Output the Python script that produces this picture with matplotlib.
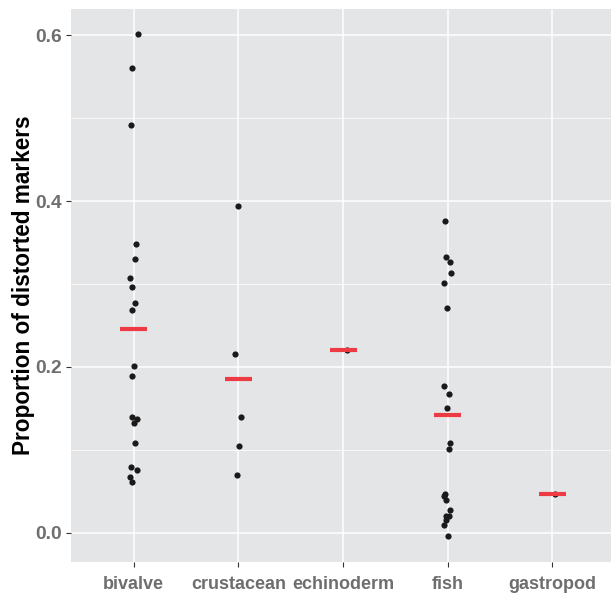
import numpy as np
import matplotlib
matplotlib.use('Agg')
import matplotlib.pyplot as plt

plt.rcParams['font.family'] = ['Liberation Sans', 'DejaVu Sans']

categories = ['bivalve', 'crustacean', 'echinoderm', 'fish', 'gastropod']

bivalve = [0.601, 0.560, 0.491, 0.348, 0.330, 0.307, 0.296, 0.277, 0.269, 0.201,
           0.189, 0.140, 0.137, 0.133, 0.109, 0.080, 0.076, 0.067, 0.061]
crustacean = [0.394, 0.216, 0.140, 0.105, 0.070]
echinoderm = [0.220]
fish = [0.376, 0.332, 0.327, 0.313, 0.301, 0.271, 0.177, 0.168, 0.151, 0.109,
        0.101, 0.047, 0.044, 0.040, 0.028, 0.021, 0.020, 0.016, 0.010, -0.004]
gastropod = [0.047]

# horizontal jitter (category units)
jit_bivalve = [0.044, -0.016, -0.023, 0.019, 0.012, -0.032, -0.021, 0.015, -0.016, 0.003,
               -0.013, -0.016, 0.029, 0.0, 0.01, -0.026, 0.029, -0.032, -0.016]
jit_crustacean = [-0.004, -0.035, 0.028, 0.006, -0.01]
jit_echinoderm = [0.034]
jit_fish = [-0.027, -0.017, 0.021, 0.031, -0.039, -0.01, -0.039, 0.011, -0.005, 0.021,
            0.014, -0.024, -0.036, -0.02, 0.021, 0.011, -0.014, -0.02, -0.036, -0.001]
jit_gastropod = [0.026]

groups = [bivalve, crustacean, echinoderm, fish, gastropod]
jitters = [jit_bivalve, jit_crustacean, jit_echinoderm, jit_fish, jit_gastropod]

fig = plt.figure(figsize=(6.11, 5.98), dpi=100)
W, H = 611, 598
left, right, top, bottom = 71, 615.3, 9.3, 561.7
ax = fig.add_axes([left / W, (H - bottom) / H, (right - left) / W, (bottom - top) / H])
ax.set_facecolor('#E4E5E7')
for s in ax.spines.values():
    s.set_visible(False)

for i, (vals, jit) in enumerate(zip(groups, jitters)):
    xs = i + 1 + np.array(jit)
    ax.scatter(xs, vals, s=20, color='#1A1A1A', zorder=3, linewidths=0)
    m = np.mean(vals)
    ax.hlines(m, i + 1 - 0.13, i + 1 + 0.13, color='#EE3A43', linewidth=3.0, zorder=4)

ax.set_xlim(0.4, 5.6)
ax.set_ylim(-0.0346, 0.631)
ax.set_xticks(range(1, 6))
ax.set_xticklabels(categories)
ax.set_yticks([0.0, 0.2, 0.4, 0.6])
ax.set_yticklabels(['0.0', '0.2', '0.4', '0.6'])
ax.set_yticks([0.1, 0.3, 0.5], minor=True)

ax.grid(True, which='major', color='white', linewidth=1.1)
ax.grid(True, which='minor', axis='y', color='white', linewidth=0.55)
ax.set_axisbelow(True)

ax.tick_params(axis='both', which='major', length=3.5, width=0.8, color='#333333',
               labelcolor='#6E6E6E', labelsize=13.8)
ax.tick_params(axis='x', pad=7, labelsize=13)
ax.tick_params(axis='y', pad=3)
ax.tick_params(which='minor', length=0)
for lab in ax.get_xticklabels() + ax.get_yticklabels():
    lab.set_fontweight('bold')

ax.set_ylabel('Proportion of distorted markers', fontsize=16.3, fontweight='bold',
              color='black', labelpad=0)

fig.savefig('out.png', dpi=100)
